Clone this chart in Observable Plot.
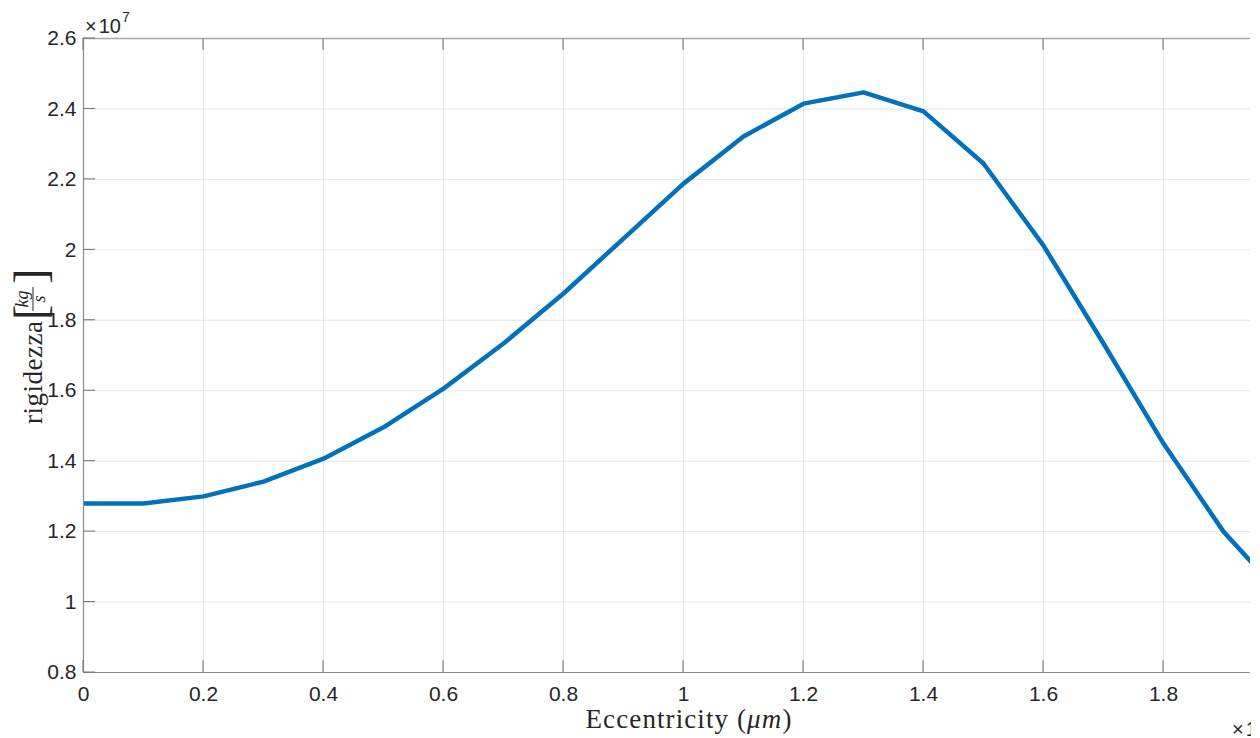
<!DOCTYPE html>
<html><head><meta charset="utf-8">
<script src="https://cdn.jsdelivr.net/npm/d3@7"></script>
<script src="https://cdn.jsdelivr.net/npm/@observablehq/plot@0.6"></script>
<style>body{margin:0;background:#fff} svg{display:block}</style>
</head><body><div id="chart"></div>
<script>
// Eccentricity (×10^-6 m, i.e. µm) and stiffness (×10^7 kg/s)
const eccentricity = [0, 0.1, 0.2, 0.3, 0.4, 0.5, 0.6, 0.7, 0.8, 0.9, 1.0, 1.1, 1.2, 1.3, 1.4, 1.5, 1.6, 1.7, 1.8, 1.9, 2.0];
const stiffness    = [1.280, 1.280, 1.300, 1.342, 1.407, 1.496, 1.606, 1.734, 1.876, 2.032, 2.188, 2.322, 2.415, 2.447, 2.393, 2.245, 2.012, 1.734, 1.450, 1.200, 1.013];
const xTicks = [0, 0.2, 0.4, 0.6, 0.8, 1, 1.2, 1.4, 1.6, 1.8];
const xTickLabels = ["0", "0.2", "0.4", "0.6", "0.8", "1", "1.2", "1.4", "1.6", "1.8"];
const yTicks = [0.8, 1, 1.2, 1.4, 1.6, 1.8, 2, 2.2, 2.4, 2.6];
const yTickLabels = ["0.8", "1", "1.2", "1.4", "1.6", "1.8", "2", "2.2", "2.4", "2.6"];
const xDomain = [0, 1.945];
const yDomain = [0.8, 2.6];

const data = eccentricity.map((x, i) => ({x, y: stiffness[i]}));
const textColor = "#262626";
const sans = "Liberation Sans, Arial, Helvetica, sans-serif";
const serif = "Liberation Serif, Times New Roman, serif";

const plot = Plot.plot({
  width: 1260, height: 738,
  marginLeft: 83, marginRight: 10, marginTop: 38, marginBottom: 66,
  x: {domain: xDomain},
  y: {domain: yDomain},
  style: {fontFamily: sans, background: "#fff", overflow: "hidden"},
  marks: [
    Plot.gridX(xTicks, {stroke: "#e6e6e6", strokeOpacity: 1, strokeWidth: 1}),
    Plot.gridY(yTicks, {stroke: "#e6e6e6", strokeOpacity: 1, strokeWidth: 1}),
    Plot.line(data, {x: "x", y: "y", stroke: "#0072BD", strokeWidth: 4.5, clip: true, strokeLinejoin: "round"}),
    Plot.ruleY([yDomain[0]], {stroke: "#8c8c8c", strokeWidth: 1.2}),
    Plot.ruleY([yDomain[1]], {stroke: "#a8a8a8", strokeWidth: 1.6}),
    Plot.ruleX([xDomain[0]], {stroke: "#8c8c8c", strokeWidth: 1.2}),
    Plot.axisX(xTicks, {anchor: "bottom", tickSize: 0, tickPadding: 14, fontSize: 21, fill: textColor,
      tickFormat: d => xTickLabels[xTicks.indexOf(d)], label: null}),
    Plot.axisY(yTicks, {anchor: "left", tickSize: 0, tickPadding: 7, fontSize: 21, fill: textColor,
      tickFormat: d => yTickLabels[yTicks.indexOf(d)], label: null})
  ]
});

const svg = d3.select(plot);
const sx = plot.scale("x"), sy = plot.scale("y");
const X = v => sx.apply(v), Y = v => sy.apply(v);
const tickLen = 12, tickColor = "#707070";
const g = svg.append("g").attr("stroke", tickColor).attr("stroke-width", 1);
xTicks.forEach(t => {
  g.append("line").attr("x1", X(t)).attr("x2", X(t)).attr("y1", Y(yDomain[0])).attr("y2", Y(yDomain[0]) - tickLen);
  g.append("line").attr("x1", X(t)).attr("x2", X(t)).attr("y1", Y(yDomain[1])).attr("y2", Y(yDomain[1]) + tickLen);
});
yTicks.forEach(t => {
  g.append("line").attr("x1", X(xDomain[0])).attr("x2", X(xDomain[0]) + tickLen).attr("y1", Y(t)).attr("y2", Y(t));
});

// exponent labels
function expLabel(x, y, exp) {
  const t = svg.append("text").attr("x", x).attr("y", y).attr("text-anchor", "start")
    .attr("font-family", sans).attr("font-size", 20).attr("fill", textColor);
  t.append("tspan").text("×");
  t.append("tspan").attr("dx", 2).text("10");
  t.append("tspan").attr("font-size", 14).attr("dy", -11).attr("dx", 1).text(exp);
}
expLabel(X(xDomain[0]) + 2, 33, "7");
expLabel(1232, 736, "-6");

// x axis title
const xt = svg.append("text").attr("x", 689).attr("y", 728)
  .attr("text-anchor", "middle").attr("font-family", serif)
  .attr("font-size", 27).attr("letter-spacing", 1.1).attr("fill", textColor);
xt.append("tspan").text("Eccentricity (");
xt.append("tspan").attr("font-style", "italic").text("μm");
xt.append("tspan").text(")");

// y axis title with fraction
const yl = svg.append("g").attr("transform", "translate(42,424) rotate(-90)").attr("fill", textColor)
  .attr("font-family", serif).attr("text-anchor", "start");
yl.append("text").attr("x", 0).attr("y", 0).attr("font-size", 27).attr("letter-spacing", 0.5).text("rigidezza");
yl.append("text").attr("x", 104).attr("y", 4).attr("font-size", 46).attr("font-weight", 300).text("[");
yl.append("text").attr("x", 125).attr("y", -14).attr("text-anchor", "middle").attr("font-size", 18).attr("font-style", "italic").text("kg");
yl.append("line").attr("x1", 113).attr("x2", 137).attr("y1", -9).attr("y2", -9).attr("stroke", textColor).attr("stroke-width", 1);
yl.append("text").attr("x", 125).attr("y", 3).attr("text-anchor", "middle").attr("font-size", 18).attr("font-style", "italic").text("s");
yl.append("text").attr("x", 140).attr("y", 4).attr("font-size", 46).attr("font-weight", 300).text("]");

// image is cut at the right edge
svg.append("rect").attr("x", 1251).attr("y", 0).attr("width", 9).attr("height", 738).attr("fill", "#fff");

document.getElementById("chart").appendChild(plot);
</script>
</body></html>
